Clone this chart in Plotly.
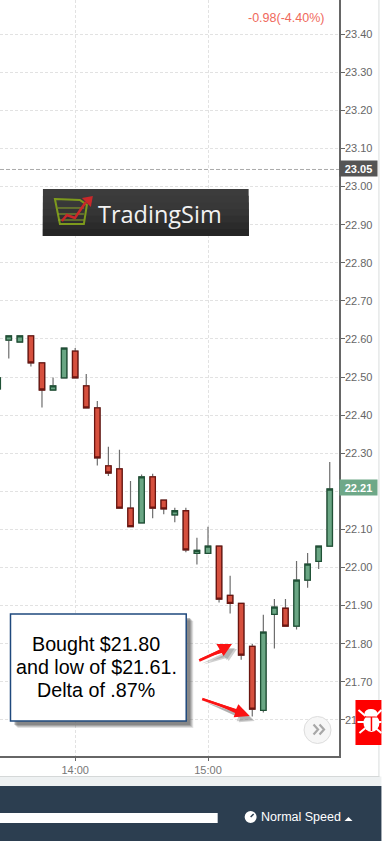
import plotly.graph_objects as go

W, H = 382, 841
PL_R, PL_B = 339.5, 756

times = ["13:25","13:30","13:35","13:40","13:45","13:50","13:55","14:00","14:05","14:10","14:15","14:20","14:25","14:30","14:35","14:40","14:45","14:50","14:55","15:00","15:05","15:10","15:15","15:20","15:25","15:30","15:35","15:40","15:45","15:50","15:55"]
opens = [22.469,22.597,22.592,22.608,22.537,22.466,22.498,22.568,22.477,22.419,22.267,22.259,22.156,22.117,22.238,22.177,22.138,22.149,22.037,22.037,22.056,21.927,21.906,21.793,21.625,21.877,21.893,21.846,21.967,22.016,22.056]
closes = [22.498,22.608,22.608,22.537,22.466,22.477,22.576,22.498,22.419,22.288,22.248,22.156,22.107,22.238,22.156,22.154,22.149,22.046,22.045,22.056,21.917,21.906,21.770,21.628,21.830,21.896,21.846,21.967,22.009,22.056,22.206]
highs = [22.498,22.608,22.608,22.608,22.537,22.499,22.576,22.576,22.508,22.437,22.317,22.309,22.227,22.244,22.246,22.177,22.157,22.157,22.078,22.107,22.056,21.978,21.906,21.799,21.876,21.917,21.917,22.017,22.038,22.056,22.277]
lows = [22.469,22.549,22.592,22.528,22.420,22.466,22.498,22.498,22.419,22.268,22.240,22.156,22.107,22.117,22.129,22.140,22.119,22.040,22.008,22.037,21.908,21.879,21.758,21.609,21.619,21.787,21.846,21.837,21.947,21.996,22.056]
yticks = [21.6,21.7,21.8,21.9,22.0,22.1,22.2,22.3,22.4,22.5,22.6,22.7,22.8,22.9,23.0,23.1,23.2,23.3,23.4]
# 22.20 sits behind the last-price flag in the reference, so its label is blank
ylabels = ["21.60","21.70","21.80","21.90","22.00","22.10","","22.30","22.40","22.50","22.60","22.70","22.80","22.90","23.00","23.10","23.20","23.30","23.40"]
prev_close = 23.05
last_price = 22.21
change_text = "-0.98(-4.40%)"
note_lines = ["Bought $21.80", "and low of $21.61.", "Delta of .87%"]

DAY = "2017-03-01 "
x = [DAY + t for t in times]
tops = [max(o, c) for o, c in zip(opens, closes)]
bots = [min(o, c) for o, c in zip(opens, closes)]

def px(v): return v / PL_R
def py(v): return 1 - v / PL_B

shapes, annos = [], []

def rect(x0, y0, x1, y1, fill, line=None, lw=0, op=1):
    shapes.append(dict(type="rect", xref="paper", yref="paper", x0=px(x0), x1=px(x1), y0=py(y0), y1=py(y1),
                       fillcolor=fill, opacity=op, line=dict(color=line or fill, width=lw)))

def circle(x0, y0, x1, y1, fill, line=None, lw=0):
    shapes.append(dict(type="circle", xref="paper", yref="paper", x0=px(x0), x1=px(x1), y0=py(y0), y1=py(y1),
                       fillcolor=fill, line=dict(color=line or fill, width=lw)))

def poly(pts, fill=None, line=None, lw=0, op=1, close=True):
    d = "M" + " L".join(f"{px(a):.5f},{py(b):.5f}" for a, b in pts) + (" Z" if close else "")
    shapes.append(dict(type="path", xref="paper", yref="paper", path=d, fillcolor=fill or "rgba(0,0,0,0)",
                       opacity=op, line=dict(color=line or "rgba(0,0,0,0)", width=lw)))

def text(xp, yp, s, size, color, anchor="center", family="Liberation Sans", bold=False):
    annos.append(dict(xref="paper", yref="paper", x=px(xp), y=py(yp), text=f"<b>{s}</b>" if bold else s,
                      showarrow=False, xanchor=anchor, yanchor="middle",
                      font=dict(size=size, color=color, family=family)))

# page furniture
rect(379, 0, 380, 777, "#d8dcdc")
rect(0, 776.5, 382, 786, "#eef1f2")
rect(0, 776, 380, 777, "#d5d8d8")
rect(0, 786, 382, 841, "#2c3e50")
rect(0, 813, 218, 823, "#ffffff")
circle(245, 811, 257, 823, "#ffffff")
poly([(251, 817), (254, 814)], line="#2c3e50", lw=1.5, close=False)
text(259, 817, "Normal Speed", 12.5, "#ffffff", anchor="left")
poly([(345, 821), (353, 821), (349, 817)], fill="#ffffff")

# change readout
text(286.5, 18, change_text, 12.5, "#f0695c")

# logo (overlapping strips so the grid cannot show through the seams)
strips = ["#3c3c3c", "#3a3a3a", "#383838", "#353535", "#303030", "#2b2b2b", "#262626"]
for i, c in enumerate(strips):
    rect(43, 189 + i * 47 / 7, 249, 236, c)
poly([(55, 199), (80, 200), (87, 205), (84, 224), (60, 224)], line="#7d9a1c", lw=2)
for yy in (208, 214, 220):
    poly([(58, yy), (84, yy)], line="#8aa52a", lw=1, close=False)
poly([(62, 221), (67, 215), (75, 218), (86, 202)], line="#c8282a", lw=2.5, close=False)
poly([(82, 198), (93, 196), (91, 207)], fill="#c8282a")
text(160, 213.5, "TradingSim", 23.5, "#f2f2f2", family="Open Sans")

# note box
for off, op in ((7, .18), (6, .25), (5, .35), (4, .45)):
    rect(10.5 + off, 614 + off, 186.5 + off, 721 + off, "#666666", op=op)
rect(10.5, 614, 186.5, 721, "#ffffff", line="#1f497d", lw=1.5)
for yy, s in zip((644, 667, 690), note_lines):
    text(96.5, yy, s, 19.7, "#000000")

# arrows
def arrow(tail, tip, b1, b2, neck1, neck2, colour, op=1, dx=0, dy=0):
    pts = [tail, neck1, b1, tip, b2, neck2]
    pts = [(a + dx, b + dy) for a, b in pts]
    poly(pts, fill=colour, op=op)

for dx, dy, op in ((5, 5, .35), (3, 4, .35)):
    arrow((199, 659.5), (232.3, 644), (216.7, 644), (224, 656), (220, 649.5), (222, 653), "#777777", op, dx, dy)
    arrow((202.5, 698), (250, 716), (238.7, 704.3), (234, 717.3), (236.5, 709), (235.5, 713), "#777777", op, dx, dy)
arrow((199, 659.5), (232.3, 644), (216.7, 644), (224, 656), (220, 649.5), (222, 653), "#fb1313")
shapes.append(dict(type="line", xref="paper", yref="paper", x0=px(199.5), y0=py(660.5), x1=px(221), y1=py(651),
                   line=dict(color="#fb1313", width=2.5)))
arrow((202.5, 698), (250, 716), (238.7, 704.3), (234, 717.3), (236.5, 709), (235.5, 713), "#fb1313")
shapes.append(dict(type="line", xref="paper", yref="paper", x0=px(202.5), y0=py(699), x1=px(237), y1=py(711),
                   line=dict(color="#fb1313", width=2.5)))

# scroll button
circle(304.5, 716.5, 331.5, 743.5, "#f6f6f6", line="#dddddd", lw=1)
poly([(314, 724.5), (318.5, 729.5), (314, 734.5)], line="#a8a8a8", lw=2.2, close=False)
poly([(320, 724.5), (324.5, 729.5), (320, 734.5)], line="#a8a8a8", lw=2.2, close=False)

# bug badge
rect(356, 700, 382, 745, "#fe0000")
circle(365, 709, 378, 718, "#ffffff")
circle(364, 714, 380, 732, "#ffffff")
poly([(372, 717), (372, 731)], line="#fe0000", lw=1.5, close=False)
poly([(364, 717), (380, 717)], line="#fe0000", lw=1, close=False)
for a, b, c, d in ((359, 710, 366, 716), (358, 722, 366, 722), (360, 733, 366, 728), (382, 710, 376, 716), (382, 722, 376, 722), (382, 733, 376, 728)):
    poly([(a, b), (c, d)], line="#ffffff", lw=2, close=False)

# price flags
shapes.append(dict(type="line", xref="paper", yref="y", x0=0, x1=1, y0=prev_close - 0.005, y1=prev_close - 0.005,
                   line=dict(color="#aaaaaa", width=1, dash="4px,2px")))
for val, bg, lab in ((prev_close - 0.003, "#555555", prev_close), (last_price, "#6ea888", last_price)):
    annos.append(dict(xref="paper", yref="y", x=px(340), y=val, text=f"<b>{lab:.2f}</b>",
                      showarrow=False, xanchor="left", yanchor="middle", width=37, height=15, align="center",
                      bgcolor=bg, borderpad=0, font=dict(size=11, color="#ffffff", family="Liberation Sans")))

fig = go.Figure()
fig.add_trace(go.Candlestick(x=x, open=opens, high=highs, low=lows, close=closes, whiskerwidth=0, showlegend=False,
                             increasing=dict(line=dict(color="#6e6e6e", width=1.2), fillcolor="#6e6e6e"),
                             decreasing=dict(line=dict(color="#6e6e6e", width=1.2), fillcolor="#6e6e6e")))
fig.add_trace(go.Candlestick(x=x, open=opens, high=tops, low=bots, close=closes, whiskerwidth=0, showlegend=False,
                             increasing=dict(line=dict(color="#1f5136", width=1.3), fillcolor="#6aa684"),
                             decreasing=dict(line=dict(color="#6b1510", width=1.3), fillcolor="#d6503e")))

fig.update_layout(
    width=W, height=H, autosize=False, margin=dict(l=0, r=W - PL_R, t=0, b=H - PL_B),
    paper_bgcolor="#ffffff", plot_bgcolor="#ffffff", showlegend=False, boxmode="overlay", boxgap=0.3,
    font=dict(family="Liberation Sans", size=11, color="#666666"),
    shapes=shapes, annotations=annos,
    xaxis=dict(type="date", range=[DAY + "13:26:02", DAY + "15:59:11"], rangeslider=dict(visible=False),
               tickvals=[DAY + "14:00", DAY + "15:00"], tickformat="%H:%M", ticks="outside", ticklen=3, tickcolor="#666666",
               showline=True, linecolor="#666666", linewidth=1.5, showgrid=True, gridcolor="#e2e2e2", griddash="3px,2px",
               gridwidth=1, zeroline=False, tickfont=dict(size=11, color="#777777")),
    yaxis=dict(side="right", range=[21.505, 23.490], tickvals=yticks, ticktext=ylabels, ticks="outside", ticklen=4,
               ticklabelstandoff=-2,
               tickcolor="#666666", showline=True, linecolor="#666666", linewidth=1.5, showgrid=True, gridcolor="#e2e2e2",
               griddash="3px,2px", gridwidth=1, zeroline=False, tickfont=dict(size=11, color="#666666")),
)

fig.write_html("out.html", config=dict(displayModeBar=False),
               post_script="document.body.style.margin='0';document.documentElement.style.overflow='hidden';")
